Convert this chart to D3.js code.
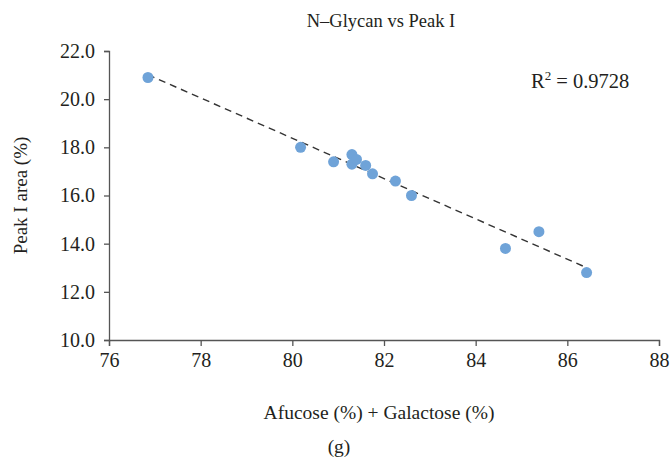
<!DOCTYPE html>
<html>
<head>
<meta charset="utf-8">
<script src="https://cdn.jsdelivr.net/npm/d3@7"></script>
<style>
  body { margin: 0; background: #fff; }
  svg text { font-family: "Liberation Serif", "DejaVu Serif", serif; fill: #231f20; }
</style>
</head>
<body>
<svg id="chart"></svg>
<script>
// values
const glycan = [76.85, 80.18, 80.9, 81.3, 81.3, 81.4, 81.6, 81.75, 82.25, 82.6, 84.65, 85.38, 86.42];
const peakI  = [20.9, 18.0, 17.4, 17.7, 17.3, 17.5, 17.25, 16.9, 16.6, 16.0, 13.8, 14.5, 12.8];
const xTicks = [76, 78, 80, 82, 84, 86, 88];
const yTicks = [10, 12, 14, 16, 18, 20, 22];
const rSquared = "0.9728";

const data = glycan.map((g, i) => ({ x: g, y: peakI[i] }));

const width = 670, height = 459;
const margin = { top: 51, right: 11, bottom: 119, left: 109 };
const innerW = width - margin.left - margin.right,
    innerH = height - margin.top - margin.bottom;

const svg = d3.select("#chart")
    .attr("width", width)
    .attr("height", height);

const g = svg.append("g")
    .attr("transform", `translate(${margin.left},${margin.top})`);

const x = d3.scaleLinear().domain([76, 88]).range([0, innerW]);
const y = d3.scaleLinear().domain([10, 22]).range([innerH, 0]);

// axes
const xAxis = g.append("g")
    .attr("transform", `translate(0,${innerH})`)
    .call(d3.axisBottom(x).tickValues(xTicks).tickSize(6).tickPadding(5).tickFormat(d3.format("d")));

const yAxis = g.append("g")
    .call(d3.axisLeft(y).tickValues(yTicks).tickSize(5).tickPadding(9).tickFormat(d3.format(".1f")));

[xAxis, yAxis].forEach(a => {
    a.select(".domain").attr("stroke", "#555").attr("stroke-width", 1.3);
    a.selectAll(".tick line").attr("stroke", "#555").attr("stroke-width", 1.3);
    a.selectAll(".tick text")
        .style("font-family", '"Liberation Serif", serif')
        .style("font-size", "20px")
        .attr("fill", "#231f20");
});
xAxis.selectAll(".tick text").attr("dy", "0.8em");

// linear trend line (least squares)
const mx = d3.mean(data, d => d.x), my = d3.mean(data, d => d.y);
const slope = d3.sum(data, d => (d.x - mx) * (d.y - my)) / d3.sum(data, d => (d.x - mx) ** 2);
const intercept = my - slope * mx;
const [x0, x1] = d3.extent(data, d => d.x);

g.append("line")
    .attr("x1", x(x0))
    .attr("y1", y(slope * x0 + intercept))
    .attr("x2", x(x1))
    .attr("y2", y(slope * x1 + intercept))
    .attr("stroke", "#333")
    .attr("stroke-width", 1.4)
    .attr("stroke-dasharray", "7,5");

// points
g.selectAll("circle")
    .data(data)
    .enter().append("circle")
    .attr("cx", d => x(d.x))
    .attr("cy", d => y(d.y))
    .attr("r", 5.5)
    .attr("fill", "#6fa3d8");

// texts
svg.append("text")
    .attr("x", 381)
    .attr("y", 27)
    .attr("text-anchor", "middle")
    .style("font-size", "18.5px")
    .text("N\u2013Glycan vs Peak I");

const r2 = svg.append("text")
    .attr("x", 531)
    .attr("y", 88)
    .style("font-size", "20.5px");
r2.append("tspan").text("R");
r2.append("tspan").attr("dy", -8).style("font-size", "13px").text("2");
r2.append("tspan").attr("dy", 8).text(" = " + rSquared);

svg.append("text")
    .attr("transform", `translate(27,${margin.top + innerH / 2}) rotate(-90)`)
    .attr("text-anchor", "middle")
    .style("font-size", "19px")
    .text("Peak I area (%)");

svg.append("text")
    .attr("x", 379)
    .attr("y", 419)
    .attr("text-anchor", "middle")
    .style("font-size", "19.5px")
    .text("Afucose (%) + Galactose (%)");

svg.append("text")
    .attr("x", 339)
    .attr("y", 453)
    .attr("text-anchor", "middle")
    .style("font-size", "19.5px")
    .text("(g)");
</script>
</body>
</html>
